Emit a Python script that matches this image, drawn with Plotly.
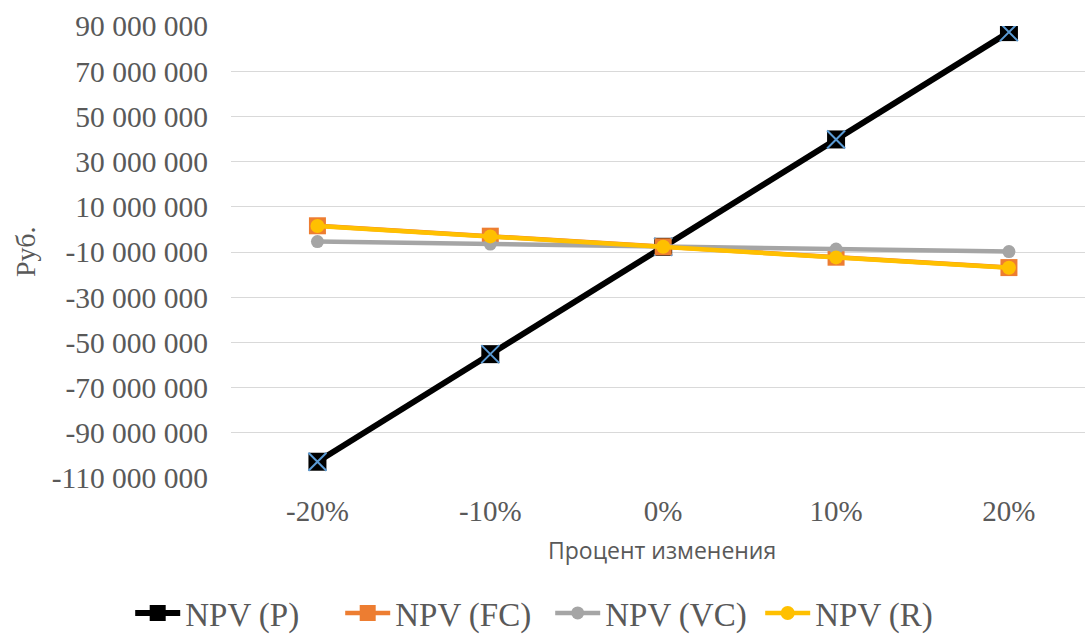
import plotly.graph_objects as go

# Sensitivity of NPV to changes of individual parameters
changes = ["-20%", "-10%", "0%", "10%", "20%"]
npv_p = [-102_800_000, -55_200_000, -7_700_000, 39_800_000, 87_300_000]
npv_fc = [1_600_000, -3_000_000, -7_700_000, -12_300_000, -16_900_000]
npv_vc = [-5_400_000, -6_500_000, -7_700_000, -8_700_000, -9_800_000]
npv_r = [1_500_000, -3_100_000, -7_700_000, -12_400_000, -17_000_000]

y_ticks = list(range(-110_000_000, 90_000_001, 20_000_000))
y_tick_text = [f"{v:,}".replace(",", " ") for v in y_ticks]

xs = list(range(len(changes)))
SERIF = "Liberation Serif"
GREY_TXT = "#595959"

fig = go.Figure()

fig.add_trace(go.Scatter(
    x=xs, y=npv_p, name="NPV (P)", mode="lines+markers",
    line=dict(color="#000000", width=6),
    marker=dict(symbol="square", size=18, color="#000000"),
    legendgroup="p",
))
fig.add_trace(go.Scatter(
    x=xs, y=npv_p, mode="markers", showlegend=False, legendgroup="p",
    marker=dict(symbol="x-thin", size=18, line=dict(color="#5B9BD5", width=2)),
    hoverinfo="skip",
))
fig.add_trace(go.Scatter(
    x=xs, y=npv_fc, name="NPV (FC)", mode="lines+markers",
    line=dict(color="#ED7D31", width=4.5),
    marker=dict(symbol="square", size=17, color="#ED7D31"),
))
fig.add_trace(go.Scatter(
    x=xs, y=npv_vc, name="NPV (VC)", mode="lines+markers",
    line=dict(color="#A5A5A5", width=4.5),
    marker=dict(symbol="circle", size=13, color="#A5A5A5"),
))
fig.add_trace(go.Scatter(
    x=xs, y=npv_r, name="NPV (R)", mode="lines+markers",
    line=dict(color="#FFC000", width=4.5),
    marker=dict(symbol="circle", size=14, color="#FFC000"),
))

plot_left, plot_right, plot_top, plot_bottom = 231, 1085, 26, 478
pw = plot_right - plot_left
ph = plot_bottom - plot_top

fig.update_layout(
    width=1085, height=641,
    margin=dict(l=plot_left, r=1085 - plot_right, t=plot_top, b=641 - plot_bottom),
    paper_bgcolor="white", plot_bgcolor="white",
    font=dict(family=SERIF, color=GREY_TXT),
    showlegend=True,
    legend=dict(
        orientation="h", xref="container", yref="container",
        x=0.12, xanchor="left", y=-0.011, yanchor="bottom",
        font=dict(family=SERIF, size=33, color=GREY_TXT),
        itemwidth=45, entrywidth=150, entrywidthmode="pixels",
    ),
    xaxis=dict(
        tickmode="array", tickvals=xs, ticktext=changes,
        range=[-0.5, (plot_right - 318) / 172.75],
        showgrid=False, zeroline=False, showline=False,
        tickfont=dict(family=SERIF, size=29, color=GREY_TXT),
        ticks="", ticklabelstandoff=13,
    ),
    yaxis=dict(
        range=[-110_000_000, 90_000_000],
        tickmode="array", tickvals=y_ticks, ticktext=y_tick_text,
        showgrid=True, gridcolor="#D9D9D9", gridwidth=1,
        zeroline=False, showline=False,
        tickfont=dict(family=SERIF, size=29.5, color=GREY_TXT),
        ticks="", ticklabelstandoff=22,
    ),
    annotations=[
        dict(text="Руб.", textangle=-90, xref="paper", yref="paper",
             x=(25 - plot_left) / pw, y=0.5, xanchor="center", yanchor="middle",
             showarrow=False, font=dict(family=SERIF, size=28, color=GREY_TXT)),
        dict(text="Процент изменения", xref="paper", yref="paper",
             x=(662 - plot_left) / pw, y=(plot_bottom - 550) / ph,
             xanchor="center", yanchor="middle", showarrow=False,
             font=dict(family="Open Sans", size=23, color=GREY_TXT)),
    ],
)

fig.write_html("out.html")
